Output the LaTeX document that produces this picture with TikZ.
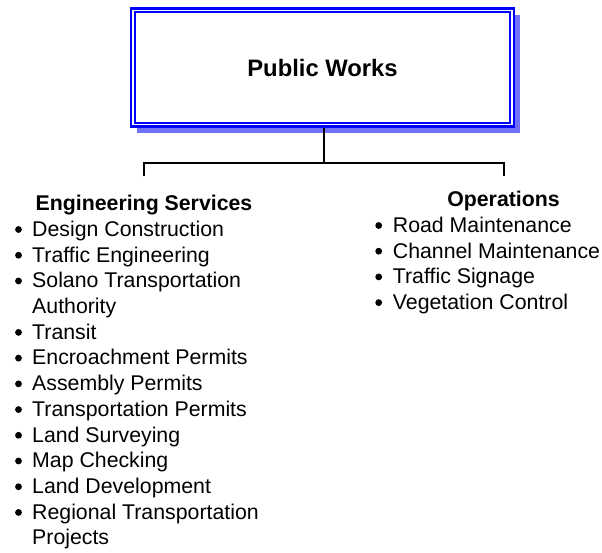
\documentclass[tikz,border=0pt]{standalone}
\usepackage{fontspec}
\setmainfont{Liberation Sans}
\usetikzlibrary{shadows}
\definecolor{pwblue}{RGB}{0,0,255}
\definecolor{pwshadow}{RGB}{112,112,250}
\newcommand\itemfont{\fontsize{21.3pt}{25pt}\selectfont}
\newcommand\headfont{\fontsize{21.3pt}{25pt}\selectfont\bfseries}
\newcommand\titlefont{\fontsize{23.8pt}{27pt}\selectfont\bfseries}
\begin{document}
\begin{tikzpicture}[x=1pt,y=-1pt,
  titlebox/.style={draw=pwblue, line width=2.5pt, fill=white, minimum width=383pt,
    minimum height=118pt, inner sep=0pt, font=\titlefont,
    drop shadow={shadow xshift=6pt, shadow yshift=-6pt, fill=pwshadow, opacity=1}},
  conn/.style={draw=black, line width=2pt},
  head/.style={anchor=base, inner sep=0pt, font=\headfont},
  item/.style={anchor=base west, inner sep=0pt, font=\itemfont},
  bul/.style={circle, fill=black, inner sep=0pt, minimum size=6.8pt}]
\useasboundingbox (0,0) rectangle (602,552);
\fill[white] (0,0) rectangle (602,552);

\node (pw) [titlebox] at (322.5,67.5) {Public Works};
\draw[pwblue, line width=2pt] ([shift={(5,5)}]pw.north west) rectangle ([shift={(-5,-5)}]pw.south east);

\coordinate (bar) at (324,163);
\coordinate (dropL) at (144,176);
\coordinate (dropR) at (504,176);
\draw[conn] (bar |- pw.south) -- (bar);
\draw[conn] (dropL) |- (bar) -| (dropR);

\node (eng) [head] at (144,210.6) {Engineering Services};
\node (ops) [head] at (503.5,206.6) {Operations};

\foreach \b/\txt [count=\i] in {1/Design Construction, 1/Traffic Engineering,
  1/Solano Transportation, 0/Authority, 1/Transit, 1/Encroachment Permits,
  1/Assembly Permits, 1/Transportation Permits, 1/Land Surveying,
  1/Map Checking, 1/Land Development, 1/Regional Transportation, 0/Projects}{
  \node (L\i) [item] at (32,{210.6+25.72*\i}) {\txt};
  \ifnum\b=1 \node (LB\i) [bul] at (18.5,{210.6+25.72*\i-6.8}) {};\fi
}

\foreach \txt [count=\i] in {Road Maintenance, Channel Maintenance,
  Traffic Signage, Vegetation Control}{
  \node (R\i) [item] at (392.7,{206.6+25.7*\i}) {\txt};
  \node (RB\i) [bul] at (378.7,{206.6+25.7*\i-6.8}) {};
}
\end{tikzpicture}
\end{document}
